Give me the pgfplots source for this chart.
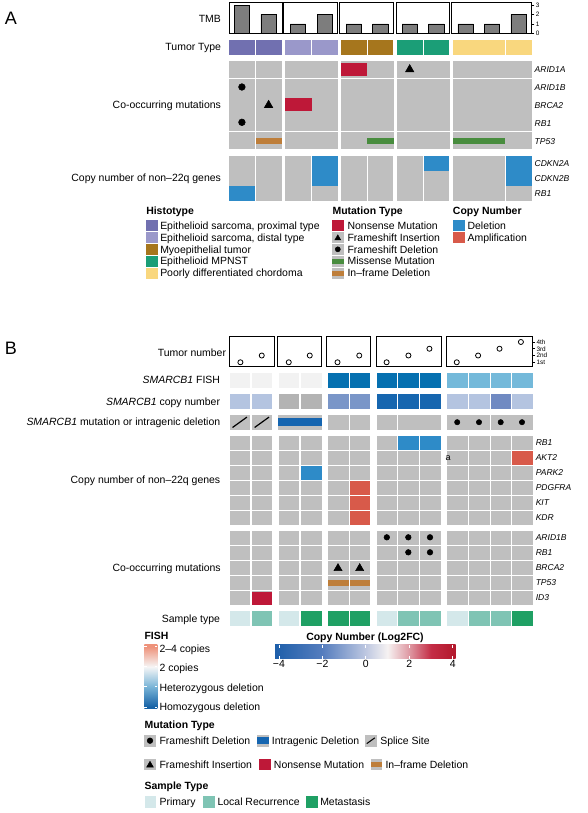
\documentclass[border=0pt]{standalone}
\usepackage{fontspec}
\setmainfont{Liberation Sans}
\usepackage{pgfplots}
\usepackage{pgfplotstable}
\pgfplotsset{compat=1.18}

\definecolor{cgray}{RGB}{191,191,191}
\definecolor{prox}{RGB}{113,112,176}
\definecolor{dist}{RGB}{154,152,202}
\definecolor{myo}{RGB}{166,118,29}
\definecolor{mpnst}{RGB}{27,158,119}
\definecolor{chord}{RGB}{249,215,126}
\definecolor{nons}{RGB}{190,24,56}
\definecolor{miss}{RGB}{72,140,62}
\definecolor{infr}{RGB}{190,126,58}
\definecolor{cdel}{RGB}{46,139,200}
\definecolor{camp}{RGB}{216,90,74}
\definecolor{fna}{RGB}{242,242,242}
\definecolor{fhom}{RGB}{5,112,176}
\definecolor{fhet}{RGB}{116,185,218}
\definecolor{cnl}{RGB}{180,196,224}
\definecolor{cnna}{RGB}{179,179,179}
\definecolor{cnm}{RGB}{122,150,200}
\definecolor{cnmb}{RGB}{112,138,194}
\definecolor{cnd}{RGB}{22,102,175}
\definecolor{intra}{RGB}{21,101,176}
\definecolor{sprim}{RGB}{212,232,234}
\definecolor{sloc}{RGB}{127,196,180}
\definecolor{smet}{RGB}{31,160,100}
\definecolor{tmbbar}{RGB}{125,125,125}
\definecolor{cba}{RGB}{30,95,170}
\definecolor{cbb}{RGB}{85,125,190}
\definecolor{cbc}{RGB}{190,200,225}
\definecolor{cbd}{RGB}{246,242,242}
\definecolor{cbe}{RGB}{222,152,162}
\definecolor{cbf}{RGB}{196,45,70}
\definecolor{cbg}{RGB}{178,24,43}
\definecolor{fsa}{RGB}{22,98,166}
\definecolor{fsb}{RGB}{120,180,215}
\definecolor{fsc}{RGB}{246,246,246}
\definecolor{fsd}{RGB}{238,146,122}

\pgfdeclarehorizontalshading{cnshade}{100bp}{color(0bp)=(cba); color(25bp)=(cba); color(38.1bp)=(cbb); color(50.15bp)=(cbc); color(56.15bp)=(cbd); color(62.2bp)=(cbe); color(68.2bp)=(cbf); color(75bp)=(cbg); color(100bp)=(cbg)}
\pgfdeclareverticalshading{fishshade}{100bp}{color(0bp)=(fsa); color(26.6bp)=(fsa); color(42.2bp)=(fsb); color(57.8bp)=(fsc); color(73.4bp)=(fsd); color(100bp)=(fsd)}

\pgfdeclareplotmark{slash}{%
  \pgfpathmoveto{\pgfqpoint{-\pgfplotmarksize}{-0.72\pgfplotmarksize}}%
  \pgfpathlineto{\pgfqpoint{\pgfplotmarksize}{0.72\pgfplotmarksize}}%
  \pgfusepathqstroke}

\newcommand\lf{\fontsize{7.85}{9}\selectfont}
\newcommand\gf{\fontsize{6.4}{7.5}\selectfont\itshape}
\newcommand\tf{\fontsize{4.8}{5.5}\selectfont}

\pgfplotsset{
  rect/.style n args={3}{only marks, mark=square*, mark size=1pt, color=#1,
     mark options={draw=none, fill=#1, xscale=#2*0.375, yscale=#3*0.375}},
  dot/.style={only marks, mark=*, black, mark size=#1},
  tri/.style={only marks, mark=triangle*, black, mark size=#1},
  tmbax/.style={scale only axis, anchor=north west, height=22.95pt, ymin=0, ymax=3.25,
     xtick=\empty, ytick=\empty, axis line style={line width=0.7pt}, clip=false},
  tnax/.style={scale only axis, anchor=north west, height=21.98pt, ymin=0.45, ymax=4.78,
     xtick=\empty, ytick=\empty, axis line style={line width=0.7pt}, clip=false},
  tmbbars/.style={ybar, bar width=11.55pt, fill=tmbbar, draw=black, line width=0.45pt},
  tnpts/.style={only marks, mark=o, mark size=1.9pt, black, line width=0.6pt},
}
\tikzset{
  lab/.style={anchor=east, inner sep=0pt, font=\lf, text height=5.6pt, text depth=0pt},
  gene/.style={anchor=west, inner sep=0pt, font=\gf, text height=4.6pt, text depth=0pt},
  leg/.style={anchor=west, inner sep=0pt, font=\lf, text height=5.6pt, text depth=0pt},
  ttl/.style={anchor=west, inner sep=0pt, font=\lf\bfseries, text height=5.6pt, text depth=0pt},
}

\pgfplotstableread[row sep=\\]{x y\\241.9 0\\268.6 0\\298 0\\324.8 0\\353.75 0\\380.3 0\\409.7 0\\436.3 0\\465.65 0\\492.05 0\\518.5 0\\}\colsA
\pgfplotstableread[row sep=\\]{x y\\239.7 0\\261.8 0\\288.7 0\\311.2 0\\338 0\\359.7 0\\386.8 0\\408.3 0\\430 0\\457.2 0\\479 0\\500.7 0\\522 0\\}\colsB

\begin{document}
\begin{tikzpicture}
\useasboundingbox (0,0) rectangle (441pt,609.75pt);
\begin{axis}[scale only axis, width=441pt, height=609.75pt, xmin=0, xmax=588, ymin=0, ymax=813,
  y dir=reverse, hide axis, clip=false]
\coordinate (tmb1) at (axis cs:229.5,2.7);
\coordinate (tmb2) at (axis cs:283.9,2.7);
\coordinate (tmb3) at (axis cs:339.75,2.7);
\coordinate (tmb4) at (axis cs:396.4,2.7);
\coordinate (tmb5) at (axis cs:451.9,2.7);
\coordinate (tn1) at (axis cs:229.5,336.7);
\coordinate (tn2) at (axis cs:277.9,336.7);
\coordinate (tn3) at (axis cs:326.6,336.7);
\coordinate (tn4) at (axis cs:376.1,336.7);
\coordinate (tn5) at (axis cs:446.25,336.7);
\coordinate (cb) at (axis cs:275,645);
\coordinate (fish) at (axis cs:144.3,644.7);
\coordinate (stray) at (axis cs:445.3,458.3);

% ===== Panel A =====
\node[anchor=west, inner sep=0pt, font=\fontsize{13.5}{15}\selectfont, text height=9.6pt, text depth=0pt] at (axis cs:4.5,18.5) {A};
\node[lab] at (axis cs:221.2,18.3) {TMB};
\node[lab] at (axis cs:221.2,47) {Tumor Type};
\node[lab] at (axis cs:221.2,104.8) {Co-occurring mutations};
\node[lab] at (axis cs:221.2,178) {Copy number of non–22q genes};

% Tumor type
\addplot[rect={prox}{24.6}{14}] coordinates {(241.9,47) (268.6,47)};
\addplot[rect={dist}{24.6}{14}] coordinates {(298,47) (324.8,47)};
\addplot[rect={myo}{24.6}{14}] coordinates {(353.75,47) (380.3,47)};
\addplot[rect={mpnst}{24.6}{14}] coordinates {(409.7,47) (436.3,47)};
\addplot[rect={chord}{24.6}{14}] coordinates {(465.65,47) (492.05,47) (518.5,47)};

% Co-occurring mutations background
\addplot[rect={cgray}{24.8}{16}] coordinates {(241.9,69.3) (268.6,69.3) (518.5,69.3)};
\addplot[rect={cgray}{24.8}{33.7}] coordinates {(241.9,96.15) (268.6,96.15) (518.5,96.15)};
\addplot[rect={cgray}{24.8}{16.4}] coordinates {(241.9,122.45) (268.6,122.45) (518.5,122.45)};
\addplot[rect={cgray}{24.8}{16.5}] coordinates {(241.9,140.35) (268.6,140.35) (518.5,140.35)};
\addplot[rect={cgray}{52}{16}] coordinates {(311.4,69.3) (367,69.3) (423,69.3) (478.8,69.3)};
\addplot[rect={cgray}{52}{33.7}] coordinates {(311.4,96.15) (367,96.15) (423,96.15) (478.8,96.15)};
\addplot[rect={cgray}{52}{16.4}] coordinates {(311.4,122.45) (367,122.45) (423,122.45) (478.8,122.45)};
\addplot[rect={cgray}{52}{16.5}] coordinates {(311.4,140.35) (367,140.35) (423,140.35) (478.8,140.35)};
% mutations
\addplot[rect={nons}{25.7}{12.7}] coordinates {(353.85,69.35) (298,104.35)};
\addplot[rect={infr}{24.8}{5.7}] coordinates {(268.6,140.85)};
\addplot[rect={miss}{25.4}{5.7}] coordinates {(380.3,140.85)};
\addplot[rect={miss}{51.6}{5.7}] coordinates {(478.8,140.85)};
\addplot[tri=3.6pt] coordinates {(409.7,69.4) (268.6,105.1)};
\addplot[dot=2.5pt] coordinates {(241.9,87) (241.9,122.3)};
\node[gene] at (axis cs:534.4,69.3) {ARID1A};
\node[gene] at (axis cs:534.4,87.3) {ARID1B};
\node[gene] at (axis cs:534.4,105.3) {BRCA2};
\node[gene] at (axis cs:534.4,123.3) {RB1};
\node[gene] at (axis cs:534.4,141.3) {TP53};

% Copy number A
\addplot[rect={cgray}{24.6}{13.6}] table[x=x, y expr=163] {\colsA};
\addplot[rect={cgray}{24.6}{13.6}] table[x=x, y expr=178] {\colsA};
\addplot[rect={cgray}{24.6}{13.6}] table[x=x, y expr=193] {\colsA};
\addplot[rect={cdel}{24.6}{13.6}] coordinates {(324.8,163) (436.3,163) (518.5,163) (324.8,178) (518.5,178) (241.9,193)};
\node[gene] at (axis cs:534.4,163) {CDKN2A};
\node[gene] at (axis cs:534.4,178) {CDKN2B};
\node[gene] at (axis cs:534.4,193) {RB1};

% Legend A
\node[ttl] at (axis cs:146,210.7) {Histotype};
\node[ttl] at (axis cs:332.3,210.7) {Mutation Type};
\node[ttl] at (axis cs:452.7,210.7) {Copy Number};
\addplot[rect={prox}{10.7}{10.5}] coordinates {(151.9,225.5)};
\addplot[rect={dist}{10.7}{10.5}] coordinates {(151.9,237.4)};
\addplot[rect={myo}{10.7}{10.5}] coordinates {(151.9,249.3)};
\addplot[rect={mpnst}{10.7}{10.5}] coordinates {(151.9,261.2)};
\addplot[rect={chord}{10.7}{10.5}] coordinates {(151.9,273.1)};
\addplot[rect={nons}{10.7}{10.5}] coordinates {(337.8,225.5)};
\addplot[rect={cgray}{10.7}{10.5}] coordinates {(337.8,237.4) (337.8,249.3) (337.8,261.2) (337.8,273.1)};
\addplot[tri=2.5pt] coordinates {(337.8,238.2)};
\addplot[dot=1.9pt] coordinates {(337.8,249.3)};
\addplot[rect={miss}{10.7}{3.5}] coordinates {(337.8,261.2)};
\addplot[rect={infr}{10.7}{3.5}] coordinates {(337.8,273.1)};
\addplot[rect={cdel}{10.7}{10.5}] coordinates {(458.5,225.5)};
\addplot[rect={camp}{10.7}{10.5}] coordinates {(458.5,237.4)};
\node[leg] at (axis cs:160,225.5) {Epithelioid sarcoma, proximal type};
\node[leg] at (axis cs:160,237.4) {Epithelioid sarcoma, distal type};
\node[leg] at (axis cs:160,249.3) {Myoepithelial tumor};
\node[leg] at (axis cs:160,261.2) {Epithelioid MPNST};
\node[leg] at (axis cs:160,273.1) {Poorly differentiated chordoma};
\node[leg] at (axis cs:347.3,225.5) {Nonsense Mutation};
\node[leg] at (axis cs:347.3,237.4) {Frameshift Insertion};
\node[leg] at (axis cs:347.3,249.3) {Frameshift Deletion};
\node[leg] at (axis cs:347.3,261.2) {Missense Mutation};
\node[leg] at (axis cs:347.3,273.1) {In–frame Deletion};
\node[leg] at (axis cs:467.3,225.5) {Deletion};
\node[leg] at (axis cs:467.3,237.4) {Amplification};

% ===== Panel B =====
\node[anchor=west, inner sep=0pt, font=\fontsize{13.5}{15}\selectfont, text height=9.6pt, text depth=0pt] at (axis cs:4.5,348.3) {B};
\node[lab] at (axis cs:226.3,352.5) {Tumor number};
\node[lab] at (axis cs:220.3,380) {{\itshape SMARCB1} FISH};
\node[lab] at (axis cs:220.3,401.3) {{\itshape SMARCB1} copy number};
\node[lab] at (axis cs:220.5,422.2) {{\itshape SMARCB1} mutation or intragenic deletion};
\node[lab] at (axis cs:220.5,480) {Copy number of non–22q genes};
\node[lab] at (axis cs:221,567.3) {Co-occurring mutations};
\node[lab] at (axis cs:220.3,618.7) {Sample type};

% FISH row
\addplot[rect={fna}{19.8}{14}] coordinates {(239.7,380) (261.8,380) (288.7,380) (311.2,380)};
\addplot[rect={fhom}{19.8}{14}] coordinates {(338,380) (359.7,380) (386.8,380) (408.3,380) (430,380)};
\addplot[rect={fhet}{19.8}{14}] coordinates {(457.2,380) (479,380) (500.7,380) (522,380)};
% SMARCB1 copy number
\addplot[rect={cnl}{19.8}{13.4}] coordinates {(239.7,401.3) (261.8,401.3) (457.2,401.3) (479,401.3) (522,401.3)};
\addplot[rect={cnna}{19.8}{13.4}] coordinates {(288.7,401.3) (311.2,401.3)};
\addplot[rect={cnm}{19.8}{13.4}] coordinates {(338,401.3) (359.7,401.3)};
\addplot[rect={cnmb}{19.8}{13.4}] coordinates {(500.7,401.3)};
\addplot[rect={cnd}{19.8}{13.4}] coordinates {(386.8,401.3) (408.3,401.3) (430,401.3)};
% SMARCB1 mutation row
\addplot[rect={cgray}{19.8}{13.7}] coordinates {(239.7,422.2) (261.8,422.2) (338,422.2) (359.7,422.2) (386.8,422.2)};
\addplot[rect={cgray}{43.4}{13.7}] coordinates {(300,422.2)};
\addplot[rect={cgray}{41.7}{13.7}] coordinates {(419.15,422.2)};
\addplot[rect={cgray}{42.2}{13.7}] coordinates {(468,422.2)};
\addplot[rect={cgray}{41}{13.7}] coordinates {(511.3,422.2)};
\addplot[rect={intra}{43.4}{7.3}] coordinates {(300,421.7)};
\addplot[only marks, mark=slash, mark size=5.4pt, black, line width=0.9pt] coordinates {(239.7,422.3) (261.8,422.3)};
\addplot[dot=2pt] coordinates {(457.2,422.2) (479,422.2) (500.7,422.2) (522,422.2)};

% Copy number B
\addplot[rect={cgray}{19.8}{13}] table[x=x, y expr=442.8] {\colsB};
\addplot[rect={cgray}{19.8}{13}] table[x=x, y expr=457.7] {\colsB};
\addplot[rect={cgray}{19.8}{13}] table[x=x, y expr=472.6] {\colsB};
\addplot[rect={cgray}{19.8}{13}] table[x=x, y expr=487.5] {\colsB};
\addplot[rect={cgray}{19.8}{13}] table[x=x, y expr=502.4] {\colsB};
\addplot[rect={cgray}{19.8}{13}] table[x=x, y expr=517.3] {\colsB};
\addplot[rect={cdel}{19.8}{13}] coordinates {(408.3,442.8) (430,442.8) (311.2,472.6)};
\addplot[rect={camp}{19.8}{13}] coordinates {(522,457.7) (359.7,487.5) (359.7,502.4) (359.7,517.3)};
\node[gene] at (axis cs:535.5,442.8) {RB1};
\node[gene] at (axis cs:535.5,457.7) {AKT2};
\node[gene] at (axis cs:535.5,472.6) {PARK2};
\node[gene] at (axis cs:535.5,487.5) {PDGFRA};
\node[gene] at (axis cs:535.5,502.4) {KIT};
\node[gene] at (axis cs:535.5,517.3) {KDR};

% Co-occurring mutations B
\addplot[rect={cgray}{19.8}{13}] table[x=x, y expr=537.3] {\colsB};
\addplot[rect={cgray}{19.8}{13}] table[x=x, y expr=552.3] {\colsB};
\addplot[rect={cgray}{19.8}{13}] table[x=x, y expr=567.3] {\colsB};
\addplot[rect={cgray}{19.8}{13}] table[x=x, y expr=582.3] {\colsB};
\addplot[rect={cgray}{19.8}{13}] table[x=x, y expr=597.3] {\colsB};
\addplot[dot=2.1pt] coordinates {(386.8,537.3) (408.3,537.3) (430,537.3) (408.3,552.3) (430,552.3)};
\addplot[tri=3.5pt] coordinates {(338,568.3) (359.7,568.3)};
\addplot[rect={infr}{19.8}{5}] coordinates {(338,583) (359.7,583)};
\addplot[rect={nons}{19.8}{12}] coordinates {(261.8,597.8)};
\node[gene] at (axis cs:535.5,537.3) {ARID1B};
\node[gene] at (axis cs:535.5,552.3) {RB1};
\node[gene] at (axis cs:535.5,567.3) {BRCA2};
\node[gene] at (axis cs:535.5,582.3) {TP53};
\node[gene] at (axis cs:535.5,597.3) {ID3};

% Sample type
\addplot[rect={sprim}{19.8}{14}] coordinates {(239.7,618.7) (288.7,618.7) (386.8,618.7) (457.2,618.7)};
\addplot[rect={sloc}{19.8}{14}] coordinates {(261.8,618.7) (408.3,618.7) (430,618.7) (479,618.7) (500.7,618.7)};
\addplot[rect={smet}{19.8}{14}] coordinates {(311.2,618.7) (338,618.7) (359.7,618.7) (522,618.7)};

% Legend B
\node[ttl] at (axis cs:144.3,636) {FISH};
\node[leg] at (axis cs:159.3,648.3) {2–4 copies};
\node[leg] at (axis cs:159.3,667.3) {2 copies};
\node[leg] at (axis cs:159.3,687.7) {Heterozygous deletion};
\node[leg] at (axis cs:159.3,707) {Homozygous deletion};
\node[ttl, anchor=center] at (axis cs:365,636.7) {Copy Number (Log2FC)};

\node[ttl] at (axis cs:144.3,724.7) {Mutation Type};
\addplot[rect={cgray}{10.7}{10.7}] coordinates {(150,740.7) (262.8,740.7) (370.8,740.7) (150,764.3) (376.2,764.3)};
\addplot[dot=2.1pt] coordinates {(150,740.7)};
\addplot[rect={intra}{10.7}{6}] coordinates {(262.8,740.7)};
\addplot[only marks, mark=slash, mark size=3pt, black, line width=0.8pt] coordinates {(370.8,740.7)};
\addplot[tri=2.9pt] coordinates {(150,765.2)};
\addplot[rect={nons}{10.7}{10.7}] coordinates {(264.7,764.3)};
\addplot[rect={infr}{10.7}{3.3}] coordinates {(376.2,764.3)};
\node[leg] at (axis cs:159.3,740.7) {Frameshift Deletion};
\node[leg] at (axis cs:271.7,740.7) {Intragenic Deletion};
\node[leg] at (axis cs:380,740.7) {Splice Site};
\node[leg] at (axis cs:159.3,764.3) {Frameshift Insertion};
\node[leg] at (axis cs:273.7,764.3) {Nonsense Mutation};
\node[leg] at (axis cs:385.3,764.3) {In–frame Deletion};

\node[ttl] at (axis cs:144.3,785.7) {Sample Type};
\addplot[rect={sprim}{10.7}{10.7}] coordinates {(150.3,801.7)};
\addplot[rect={sloc}{10.7}{10.7}] coordinates {(208.7,801.7)};
\addplot[rect={smet}{10.7}{10.7}] coordinates {(312,801.7)};
\node[leg] at (axis cs:159.3,801.7) {Primary};
\node[leg] at (axis cs:217.3,801.7) {Local Recurrence};
\node[leg] at (axis cs:320,801.7) {Metastasis};
\end{axis}

\node[anchor=west, inner sep=0pt, font=\fontsize{6.8}{8}\selectfont, text height=3.5pt, text depth=0pt] at (stray) {a};

% ===== TMB bar panels =====
\begin{axis}[tmbax, at={(tmb1)}, width=39.38pt, xmin=229.5, xmax=282]
\addplot[tmbbars] coordinates {(241.9,3) (268.6,2)};
\end{axis}
\begin{axis}[tmbax, at={(tmb2)}, width=40.2pt, xmin=283.9, xmax=337.5]
\addplot[tmbbars] coordinates {(298,1) (324.8,2)};
\end{axis}
\begin{axis}[tmbax, at={(tmb3)}, width=40.5pt, xmin=339.75, xmax=393.75]
\addplot[tmbbars] coordinates {(353.75,1) (380.3,1)};
\end{axis}
\begin{axis}[tmbax, at={(tmb4)}, width=39.9pt, xmin=396.4, xmax=449.6]
\addplot[tmbbars] coordinates {(409.7,1) (436.3,1)};
\end{axis}
\begin{axis}[tmbax, at={(tmb5)}, width=59.89pt, xmin=451.9, xmax=531.75,
  ytick={0,1,2,3}, yticklabels={0,1,2,3}, ytick pos=right, ytick align=outside,
  major tick length=2pt, tick style={black, line width=0.5pt},
  yticklabel style={font=\tf, inner sep=0.8pt}]
\addplot[tmbbars] coordinates {(465.65,1) (492.05,1) (518.5,2)};
\end{axis}

% ===== Tumor number panels =====
\begin{axis}[tnax, at={(tn1)}, width=33.45pt, xmin=229.5, xmax=274.1]
\addplot[tnpts] coordinates {(240.4,1) (261.75,2)};
\end{axis}
\begin{axis}[tnax, at={(tn2)}, width=32.33pt, xmin=277.9, xmax=321]
\addplot[tnpts] coordinates {(288.75,1) (309.75,2)};
\end{axis}
\begin{axis}[tnax, at={(tn3)}, width=32.93pt, xmin=326.6, xmax=370.5]
\addplot[tnpts] coordinates {(337.5,1) (359.25,2)};
\end{axis}
\begin{axis}[tnax, at={(tn4)}, width=48.68pt, xmin=376.1, xmax=441]
\addplot[tnpts] coordinates {(386.6,1) (408.4,2) (429.4,3)};
\end{axis}
\begin{axis}[tnax, at={(tn5)}, width=64.69pt, xmin=446.25, xmax=532.5,
  ytick={1,2,3,4}, yticklabels={1st,2nd,3rd,4th}, ytick pos=right, ytick align=outside,
  major tick length=2pt, tick style={black, line width=0.5pt},
  yticklabel style={font=\tf, inner sep=0.8pt}]
\addplot[tnpts] coordinates {(456.75,1) (478.1,2) (499.5,3) (520.9,4)};
\end{axis}

% ===== Copy number colour bar =====
\begin{axis}[at={(cb)}, anchor=north west, scale only axis, width=135.4pt, height=10.5pt,
  xmin=-4.18, xmax=4.13, ymin=0, ymax=1, axis line style={draw=none}, ytick=\empty,
  xtick={-4,-2,0,2,4}, xticklabels={−4,−2,0,2,4}, xtick pos=both, xticklabel pos=lower,
  xtick align=inside, major tick length=2pt, tick style={white, line width=0.6pt},
  axis on top, xticklabel style={font=\lf, inner sep=0.6pt}]
\shade[shading=cnshade] (axis cs:-4.18,0) rectangle (axis cs:4.13,1);
\end{axis}

% ===== FISH gradient =====
\begin{axis}[at={(fish)}, anchor=north west, scale only axis, width=9.75pt, height=48.2pt,
  xmin=0, xmax=1, ymin=-0.1, ymax=3.1, axis line style={draw=none}, xtick=\empty,
  ytick={0,1,2,3}, yticklabels={,,,}, ytick pos=both, ytick align=inside,
  major tick length=1.8pt, tick style={white, line width=0.6pt}, axis on top]
\shade[shading=fishshade] (axis cs:0,-0.1) rectangle (axis cs:1,3.1);
\end{axis}
\end{tikzpicture}
\end{document}
